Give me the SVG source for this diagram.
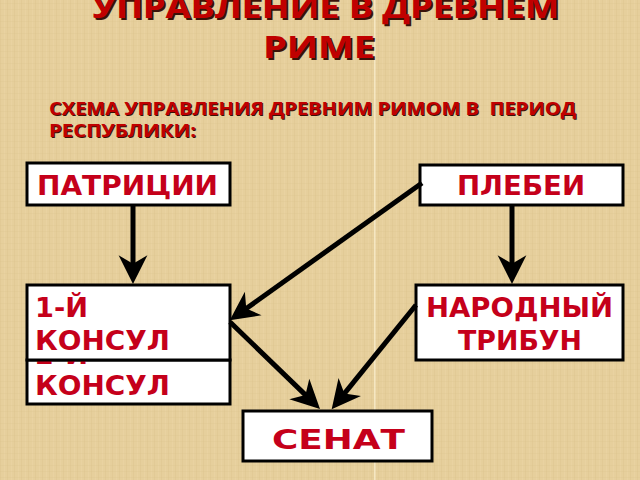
<svg xmlns="http://www.w3.org/2000/svg" width="640" height="480" viewBox="0 0 640 480">
<defs>
<pattern id="weave" width="7" height="6" patternUnits="userSpaceOnUse">
<rect width="7" height="6" fill="#e6cf9c"/>
<rect x="0" y="0" width="1" height="6" fill="#d9c089" opacity="0.3"/>
<rect x="4" y="0" width="1" height="6" fill="#efdcae" opacity="0.3"/>
<rect x="0" y="3" width="7" height="1" fill="#d8be86" opacity="0.2"/>
</pattern>
<marker id="ah" markerUnits="userSpaceOnUse" markerWidth="32" markerHeight="32" viewBox="0 -15 28 30" refX="12" refY="0" orient="auto">
<path d="M0,-13.5 L27,0 L0,13.5 L8,0 Z" fill="#000"/>
</marker>
<style>
.box{fill:#fff;stroke:#000;stroke-width:3}
.lbl{font-family:"DejaVu Sans","Liberation Sans",sans-serif;font-weight:bold;fill:#c5001a;font-size:26px}
.ttl{font-family:"Open Sans","Liberation Sans",sans-serif;font-weight:bold;font-size:31px}
.sub{font-family:"Open Sans","Liberation Sans",sans-serif;font-weight:bold;font-size:17.5px}
.red{fill:#c00000}
.sh{fill:#3a1208}
.conn{stroke:#000;stroke-width:5;fill:none;marker-end:url(#ah)}
</style>
</defs>
<rect width="640" height="480" fill="url(#weave)"/>
<rect x="374" y="0" width="1.5" height="480" fill="#fff6dc" opacity="0.6"/>

<g id="title">
<text class="ttl sh" x="94" y="20" textLength="467" lengthAdjust="spacingAndGlyphs">УПРАВЛЕНИЕ В ДРЕВНЕМ</text>
<text class="ttl red" x="92" y="18" textLength="467" lengthAdjust="spacingAndGlyphs">УПРАВЛЕНИЕ В ДРЕВНЕМ</text>
<text class="ttl sh" x="265" y="60" textLength="112" lengthAdjust="spacingAndGlyphs">РИМЕ</text>
<text class="ttl red" x="263" y="58" textLength="112" lengthAdjust="spacingAndGlyphs">РИМЕ</text>
</g>

<g id="subtitle">
<text class="sub sh" x="50" y="116" xml:space="preserve" textLength="527" lengthAdjust="spacingAndGlyphs">СХЕМА УПРАВЛЕНИЯ ДРЕВНИМ РИМОМ В  ПЕРИОД</text>
<text class="sub red" x="49" y="115" xml:space="preserve" textLength="527" lengthAdjust="spacingAndGlyphs">СХЕМА УПРАВЛЕНИЯ ДРЕВНИМ РИМОМ В  ПЕРИОД</text>
<text class="sub sh" x="50" y="138" textLength="147" lengthAdjust="spacingAndGlyphs">РЕСПУБЛИКИ:</text>
<text class="sub red" x="49" y="137" textLength="147" lengthAdjust="spacingAndGlyphs">РЕСПУБЛИКИ:</text>
</g>

<g id="patricii">
<rect class="box" x="27" y="163" width="203" height="42"/>
<text class="lbl" x="37" y="195" textLength="181" lengthAdjust="spacingAndGlyphs">ПАТРИЦИИ</text>
</g>

<g id="plebei">
<rect class="box" x="420" y="165" width="203" height="40"/>
<text class="lbl" x="457" y="195" textLength="128" lengthAdjust="spacingAndGlyphs">ПЛЕБЕИ</text>
</g>

<g id="konsul2">
<rect class="box" x="27" y="360" width="203" height="44"/>
<text class="lbl" x="35" y="364" textLength="53" lengthAdjust="spacingAndGlyphs">2-Й</text>
<text class="lbl" x="35" y="395" textLength="135" lengthAdjust="spacingAndGlyphs">КОНСУЛ</text>
</g>

<g id="konsul1">
<rect class="box" x="27" y="285" width="203" height="75"/>
<text class="lbl" x="35" y="317" textLength="53" lengthAdjust="spacingAndGlyphs">1-Й</text>
<text class="lbl" x="35" y="350" textLength="135" lengthAdjust="spacingAndGlyphs">КОНСУЛ</text>
</g>

<g id="tribun">
<rect class="box" x="416" y="285" width="207" height="75"/>
<text class="lbl" x="426" y="317" textLength="187" lengthAdjust="spacingAndGlyphs">НАРОДНЫЙ</text>
<text class="lbl" x="458" y="350" textLength="124" lengthAdjust="spacingAndGlyphs">ТРИБУН</text>
</g>

<g id="senat">
<rect class="box" x="243" y="411" width="189" height="50"/>
<text class="lbl" x="272" y="449" font-size="37" textLength="133" lengthAdjust="spacingAndGlyphs">СЕНАТ</text>
</g>

<g id="connectors">
<line class="conn" x1="133" y1="206" x2="133" y2="268"/>
<line class="conn" x1="512" y1="206" x2="512" y2="268"/>
<line class="conn" x1="422" y1="183" x2="242.8" y2="311"/>
<line class="conn" x1="230" y1="322" x2="308.5" y2="397.9"/>
<line class="conn" x1="416" y1="305" x2="341.7" y2="396.9"/>
</g>
</svg>
